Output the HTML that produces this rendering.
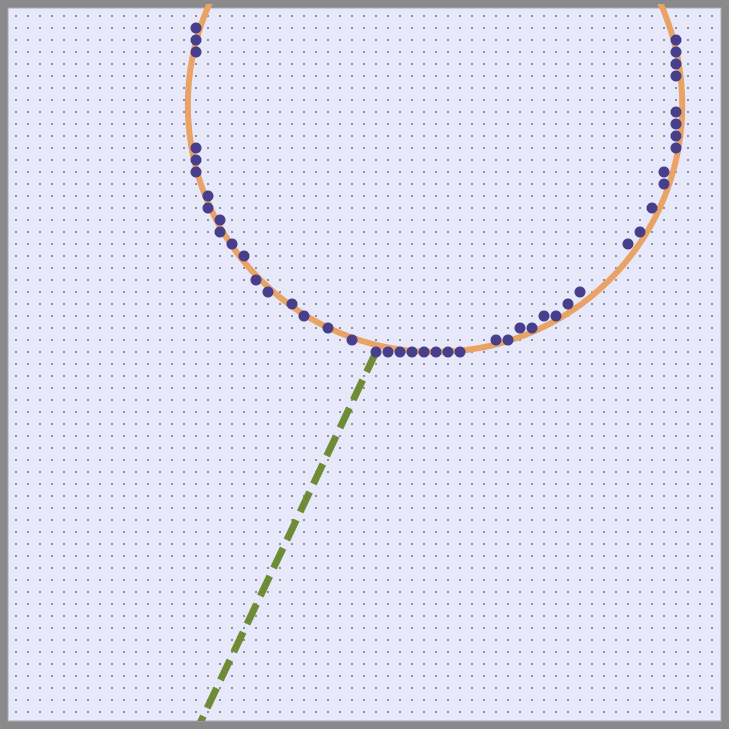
<!DOCTYPE html>
<html><head><meta charset="utf-8"><style>
html,body{margin:0;padding:0;background:#8a8a8a;}
svg{display:block}
</style></head><body>
<svg width="729" height="729" xmlns="http://www.w3.org/2000/svg">
<defs>
<pattern id="dots" x="0" y="0" width="12" height="12" patternUnits="userSpaceOnUse">
<rect x="3" y="3" width="2" height="2" fill="#8f8f9f"/>
</pattern>
<clipPath id="clip"><rect x="0" y="4" width="729" height="717"/></clipPath>
</defs>
<rect x="0" y="0" width="729" height="729" fill="#8a8a8a"/>
<rect x="8" y="8" width="713" height="713" fill="#e8e8fb" stroke="#a8a8b8" stroke-width="1"/>
<rect x="8" y="8" width="713" height="713" fill="url(#dots)"/>
<g id="marks" clip-path="url(#clip)"></g>
</svg>
<script>
const ptX = [16,16,16,16,16,16,17,17,18,18,19,20,21,22,24,25,27,29,31,32,33,34,35,36,37,38,41,42,43,44,45,46,47,48,52,53,54,55,55,56,56,56,56,56,56,56,56];
const ptY = [2,3,4,12,13,14,16,17,18,19,20,21,23,24,25,26,27,28,29,29,29,29,29,29,29,29,28,28,27,27,26,26,25,24,20,19,17,15,14,12,11,10,9,6,5,4,3];
const circle = {cx:35.92, cy:8.4, r:20.6};
const lineStart = [31,29], lineEnd = [16.3,60];
const sx = i => 4 + 12*i, sy = j => 4 + 12*j;
const NS = "http://www.w3.org/2000/svg";
const g = document.getElementById('marks');
const c = document.createElementNS(NS,'circle');


c.setAttribute('cx', sx(circle.cx)); c.setAttribute('cy', sy(circle.cy)); c.setAttribute('r', circle.r*12);
c.setAttribute('fill','none'); c.setAttribute('stroke','#e9a365'); c.setAttribute('stroke-width','6');
g.appendChild(c);
const l = document.createElementNS(NS,'line');


l.setAttribute('x1', sx(lineStart[0])); l.setAttribute('y1', sy(lineStart[1]));
l.setAttribute('x2', sx(lineEnd[0])); l.setAttribute('y2', sy(lineEnd[1]));
l.setAttribute('stroke','#6e8b35'); l.setAttribute('stroke-width','7'); l.setAttribute('stroke-dasharray','22 9');
g.appendChild(l);
for (let k=0;k<Math.min(ptX.length,ptY.length);k++){
  const p = document.createElementNS(NS,'circle');
  
  
  p.setAttribute('cx', sx(ptX[k])); p.setAttribute('cy', sy(ptY[k])); p.setAttribute('r','5.5');
  p.setAttribute('fill','#473f8c');
  g.appendChild(p);
}
</script>
</body></html>
